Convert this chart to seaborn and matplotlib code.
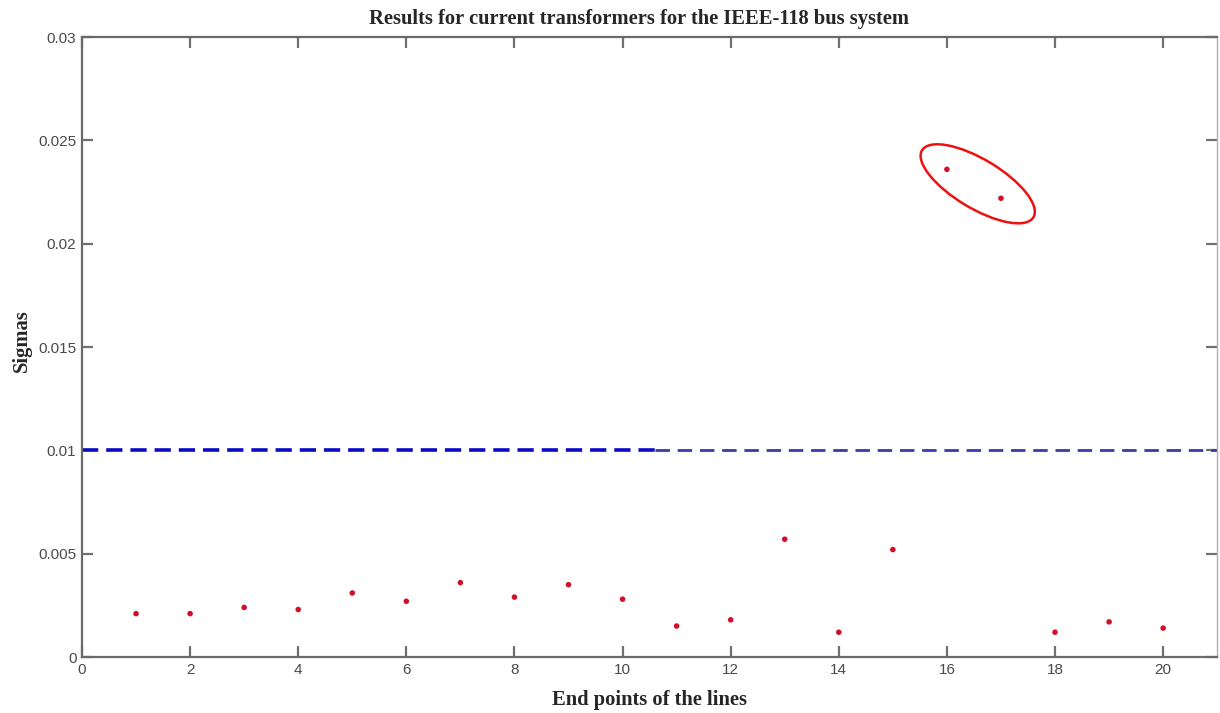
import matplotlib
matplotlib.use("Agg")
import matplotlib.pyplot as plt
import matplotlib.transforms as mtransforms
from matplotlib.patches import Ellipse
import numpy as np
import pandas as pd
import seaborn as sns

# Sigma per line end point
end_points = list(range(1, 21))
sigmas = [0.0021, 0.0021, 0.0024, 0.0023, 0.0031, 0.0027, 0.0036, 0.0029, 0.0035, 0.0028,
          0.0015, 0.0018, 0.0057, 0.0012, 0.0052, 0.0236, 0.0222, 0.0012, 0.0017, 0.0014]

threshold = 0.01
x_ticks = list(range(0, 21, 2))
y_ticks = [0, 0.005, 0.01, 0.015, 0.02, 0.025, 0.03]
y_tick_labels = ["0", "0.005", "0.01", "0.015", "0.02", "0.025", "0.03"]

# Flagged outliers (points 16 and 17)
flagged = [16, 17]

df = pd.DataFrame({"end_point": end_points, "sigma": sigmas})

sns.set_style("white")
plt.rcParams["font.family"] = ["Liberation Sans", "DejaVu Sans"]

fig = plt.figure(figsize=(12.2, 7.13), dpi=100)
ax = fig.add_axes([0.0672, 0.0785, 0.9305, 0.8695])

# Threshold line: drawn as two dashed segments of different weight
ax.plot([0, 10.6], [threshold, threshold], color="#0a0ac8", lw=2.6,
        dashes=(4.5, 2.2), solid_capstyle="butt")
ax.plot([10.6, 21], [threshold, threshold], color="#3a3aa8", lw=2.0,
        dashes=(5.2, 2.8), solid_capstyle="butt")

sns.scatterplot(data=df, x="end_point", y="sigma", ax=ax, color="#d0102a",
                s=16, edgecolor="none", legend=False)

ax.set_xlim(0, 21)
ax.set_ylim(0, 0.03)
ax.set_xticks(x_ticks)
ax.set_xticklabels([str(t) for t in x_ticks])
ax.set_yticks(y_ticks)
ax.set_yticklabels(y_tick_labels)

ax.tick_params(direction="in", length=8, width=1.6, color="#707070",
               labelsize=11, labelcolor="#4a4a4a", top=True, right=True,
               left=True, bottom=True, pad=4)
for side in ["left", "bottom", "top"]:
    ax.spines[side].set_color("#6a6a6a")
    ax.spines[side].set_linewidth(1.6)
ax.spines["right"].set_color("#b0b0b0")
ax.spines["right"].set_linewidth(1.0)

# Ellipse around the flagged points, sized in screen pixels
fx = np.mean([end_points[i - 1] for i in flagged]) + 0.07
fy = np.mean([sigmas[i - 1] for i in flagged])
trans = mtransforms.IdentityTransform() + mtransforms.ScaledTranslation(fx, fy, ax.transData)
ax.add_patch(Ellipse((0, 0), width=130, height=49, angle=-31, transform=trans,
                     fill=False, edgecolor="#ee1111", lw=1.8))

serif = ["Liberation Serif", "DejaVu Serif"]
fig.text(0.524, 0.974, "Results for current transformers for the IEEE-118 bus system",
         ha="center", va="center", fontsize=14.8, fontweight="bold", family=serif)
ax.set_xlabel("End points of the lines", fontsize=14.8, fontweight="bold", family=serif)
ax.xaxis.set_label_coords(0.5, -0.053)
ax.set_ylabel("Sigmas", fontsize=14.8, fontweight="bold", family=serif)
ax.yaxis.set_label_coords(-0.044, 0.51)

fig.savefig("out.png", dpi=100, facecolor="white")
